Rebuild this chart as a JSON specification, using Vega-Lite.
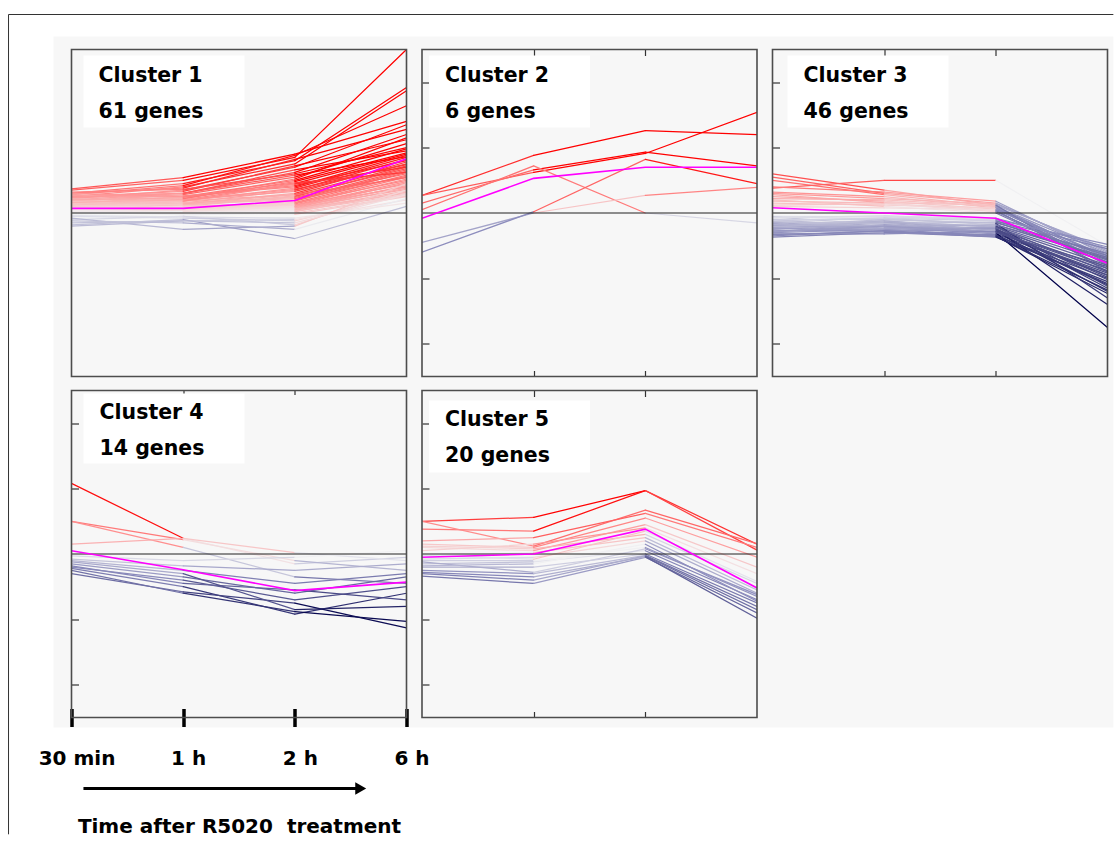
{
"$schema": "https://vega.github.io/schema/vega-lite/v6.json",
"padding": {"left": 7.5, "top": 13.5, "right": 0, "bottom": 0},
"background": "white",
"bounds": "flush",
"columns": 3,
"spacing": {"row": 14, "column": 15.5},
"datasets": {
"genes": [
{"c":1,"g":1,"t":0,"v":0.35},{"c":1,"g":1,"t":1,"v":0.50},{"c":1,"g":1,"t":2,"v":0.85},{"c":1,"g":1,"t":3,"v":2.50},
{"c":1,"g":2,"t":0,"v":0.30},{"c":1,"g":2,"t":1,"v":0.45},{"c":1,"g":2,"t":2,"v":0.80},{"c":1,"g":2,"t":3,"v":1.92},
{"c":1,"g":3,"t":0,"v":0.25},{"c":1,"g":3,"t":1,"v":0.40},{"c":1,"g":3,"t":2,"v":0.75},{"c":1,"g":3,"t":3,"v":1.87},
{"c":1,"g":4,"t":0,"v":0.28},{"c":1,"g":4,"t":1,"v":0.42},{"c":1,"g":4,"t":2,"v":0.88},{"c":1,"g":4,"t":3,"v":1.64},
{"c":1,"g":5,"t":0,"v":0.37},{"c":1,"g":5,"t":1,"v":0.54},{"c":1,"g":5,"t":2,"v":0.90},{"c":1,"g":5,"t":3,"v":1.40},
{"c":1,"g":6,"t":0,"v":0.22},{"c":1,"g":6,"t":1,"v":0.35},{"c":1,"g":6,"t":2,"v":0.70},{"c":1,"g":6,"t":3,"v":1.35},
{"c":1,"g":7,"t":0,"v":0.30},{"c":1,"g":7,"t":1,"v":0.38},{"c":1,"g":7,"t":2,"v":0.82},{"c":1,"g":7,"t":3,"v":1.28},
{"c":1,"g":8,"t":0,"v":0.20},{"c":1,"g":8,"t":1,"v":0.30},{"c":1,"g":8,"t":2,"v":0.62},{"c":1,"g":8,"t":3,"v":1.20},
{"c":1,"g":9,"t":0,"v":0.25},{"c":1,"g":9,"t":1,"v":0.33},{"c":1,"g":9,"t":2,"v":0.72},{"c":1,"g":9,"t":3,"v":1.12},
{"c":1,"g":10,"t":0,"v":0.18},{"c":1,"g":10,"t":1,"v":0.28},{"c":1,"g":10,"t":2,"v":0.55},{"c":1,"g":10,"t":3,"v":1.06},
{"c":1,"g":11,"t":0,"v":0.32},{"c":1,"g":11,"t":1,"v":0.36},{"c":1,"g":11,"t":2,"v":0.60},{"c":1,"g":11,"t":3,"v":1.00},
{"c":1,"g":12,"t":0,"v":0.15},{"c":1,"g":12,"t":1,"v":0.25},{"c":1,"g":12,"t":2,"v":0.50},{"c":1,"g":12,"t":3,"v":0.98},
{"c":1,"g":13,"t":0,"v":0.26},{"c":1,"g":13,"t":1,"v":0.30},{"c":1,"g":13,"t":2,"v":0.66},{"c":1,"g":13,"t":3,"v":0.95},
{"c":1,"g":14,"t":0,"v":0.20},{"c":1,"g":14,"t":1,"v":0.22},{"c":1,"g":14,"t":2,"v":0.48},{"c":1,"g":14,"t":3,"v":0.92},
{"c":1,"g":15,"t":0,"v":0.12},{"c":1,"g":15,"t":1,"v":0.20},{"c":1,"g":15,"t":2,"v":0.45},{"c":1,"g":15,"t":3,"v":0.90},
{"c":1,"g":16,"t":0,"v":0.24},{"c":1,"g":16,"t":1,"v":0.26},{"c":1,"g":16,"t":2,"v":0.40},{"c":1,"g":16,"t":3,"v":0.88},
{"c":1,"g":17,"t":0,"v":0.10},{"c":1,"g":17,"t":1,"v":0.18},{"c":1,"g":17,"t":2,"v":0.38},{"c":1,"g":17,"t":3,"v":0.85},
{"c":1,"g":18,"t":0,"v":0.18},{"c":1,"g":18,"t":1,"v":0.15},{"c":1,"g":18,"t":2,"v":0.35},{"c":1,"g":18,"t":3,"v":0.82},
{"c":1,"g":19,"t":0,"v":0.30},{"c":1,"g":19,"t":1,"v":0.25},{"c":1,"g":19,"t":2,"v":0.42},{"c":1,"g":19,"t":3,"v":0.80},
{"c":1,"g":20,"t":0,"v":0.08},{"c":1,"g":20,"t":1,"v":0.14},{"c":1,"g":20,"t":2,"v":0.30},{"c":1,"g":20,"t":3,"v":0.78},
{"c":1,"g":21,"t":0,"v":0.14},{"c":1,"g":21,"t":1,"v":0.20},{"c":1,"g":21,"t":2,"v":0.33},{"c":1,"g":21,"t":3,"v":0.75},
{"c":1,"g":22,"t":0,"v":0.22},{"c":1,"g":22,"t":1,"v":0.18},{"c":1,"g":22,"t":2,"v":0.28},{"c":1,"g":22,"t":3,"v":0.72},
{"c":1,"g":23,"t":0,"v":0.06},{"c":1,"g":23,"t":1,"v":0.10},{"c":1,"g":23,"t":2,"v":0.25},{"c":1,"g":23,"t":3,"v":0.70},
{"c":1,"g":24,"t":0,"v":0.16},{"c":1,"g":24,"t":1,"v":0.12},{"c":1,"g":24,"t":2,"v":0.26},{"c":1,"g":24,"t":3,"v":0.68},
{"c":1,"g":25,"t":0,"v":0.12},{"c":1,"g":25,"t":1,"v":0.16},{"c":1,"g":25,"t":2,"v":0.22},{"c":1,"g":25,"t":3,"v":0.66},
{"c":1,"g":26,"t":0,"v":0.20},{"c":1,"g":26,"t":1,"v":0.14},{"c":1,"g":26,"t":2,"v":0.20},{"c":1,"g":26,"t":3,"v":0.64},
{"c":1,"g":27,"t":0,"v":0.05},{"c":1,"g":27,"t":1,"v":0.08},{"c":1,"g":27,"t":2,"v":0.18},{"c":1,"g":27,"t":3,"v":0.62},
{"c":1,"g":28,"t":0,"v":0.10},{"c":1,"g":28,"t":1,"v":0.12},{"c":1,"g":28,"t":2,"v":0.24},{"c":1,"g":28,"t":3,"v":0.60},
{"c":1,"g":29,"t":0,"v":0.18},{"c":1,"g":29,"t":1,"v":0.10},{"c":1,"g":29,"t":2,"v":0.16},{"c":1,"g":29,"t":3,"v":0.58},
{"c":1,"g":30,"t":0,"v":0.08},{"c":1,"g":30,"t":1,"v":0.06},{"c":1,"g":30,"t":2,"v":0.20},{"c":1,"g":30,"t":3,"v":0.56},
{"c":1,"g":31,"t":0,"v":0.14},{"c":1,"g":31,"t":1,"v":0.08},{"c":1,"g":31,"t":2,"v":0.14},{"c":1,"g":31,"t":3,"v":0.55},
{"c":1,"g":32,"t":0,"v":0.04},{"c":1,"g":32,"t":1,"v":0.10},{"c":1,"g":32,"t":2,"v":0.12},{"c":1,"g":32,"t":3,"v":0.52},
{"c":1,"g":33,"t":0,"v":0.10},{"c":1,"g":33,"t":1,"v":0.04},{"c":1,"g":33,"t":2,"v":0.15},{"c":1,"g":33,"t":3,"v":0.50},
{"c":1,"g":34,"t":0,"v":0.06},{"c":1,"g":34,"t":1,"v":0.08},{"c":1,"g":34,"t":2,"v":0.10},{"c":1,"g":34,"t":3,"v":0.48},
{"c":1,"g":35,"t":0,"v":0.12},{"c":1,"g":35,"t":1,"v":0.06},{"c":1,"g":35,"t":2,"v":0.08},{"c":1,"g":35,"t":3,"v":0.46},
{"c":1,"g":36,"t":0,"v":0.02},{"c":1,"g":36,"t":1,"v":0.05},{"c":1,"g":36,"t":2,"v":0.12},{"c":1,"g":36,"t":3,"v":0.44},
{"c":1,"g":37,"t":0,"v":0.08},{"c":1,"g":37,"t":1,"v":0.02},{"c":1,"g":37,"t":2,"v":0.06},{"c":1,"g":37,"t":3,"v":0.42},
{"c":1,"g":38,"t":0,"v":0.05},{"c":1,"g":38,"t":1,"v":0.04},{"c":1,"g":38,"t":2,"v":0.10},{"c":1,"g":38,"t":3,"v":0.40},
{"c":1,"g":39,"t":0,"v":0.03},{"c":1,"g":39,"t":1,"v":0.00},{"c":1,"g":39,"t":2,"v":0.05},{"c":1,"g":39,"t":3,"v":0.38},
{"c":1,"g":40,"t":0,"v":0.09},{"c":1,"g":40,"t":1,"v":0.03},{"c":1,"g":40,"t":2,"v":0.08},{"c":1,"g":40,"t":3,"v":0.36},
{"c":1,"g":41,"t":0,"v":0.01},{"c":1,"g":41,"t":1,"v":0.02},{"c":1,"g":41,"t":2,"v":0.04},{"c":1,"g":41,"t":3,"v":0.34},
{"c":1,"g":42,"t":0,"v":0.04},{"c":1,"g":42,"t":1,"v":-0.02},{"c":1,"g":42,"t":2,"v":0.02},{"c":1,"g":42,"t":3,"v":0.32},
{"c":1,"g":43,"t":0,"v":0.00},{"c":1,"g":43,"t":1,"v":0.01},{"c":1,"g":43,"t":2,"v":0.06},{"c":1,"g":43,"t":3,"v":0.30},
{"c":1,"g":44,"t":0,"v":0.06},{"c":1,"g":44,"t":1,"v":0.00},{"c":1,"g":44,"t":2,"v":0.03},{"c":1,"g":44,"t":3,"v":0.28},
{"c":1,"g":45,"t":0,"v":0.02},{"c":1,"g":45,"t":1,"v":-0.03},{"c":1,"g":45,"t":2,"v":0.00},{"c":1,"g":45,"t":3,"v":0.26},
{"c":1,"g":46,"t":0,"v":0.03},{"c":1,"g":46,"t":1,"v":0.02},{"c":1,"g":46,"t":2,"v":-0.02},{"c":1,"g":46,"t":3,"v":0.25},
{"c":1,"g":47,"t":0,"v":0.28},{"c":1,"g":47,"t":1,"v":0.20},{"c":1,"g":47,"t":2,"v":0.36},{"c":1,"g":47,"t":3,"v":0.74},
{"c":1,"g":48,"t":0,"v":0.16},{"c":1,"g":48,"t":1,"v":0.22},{"c":1,"g":48,"t":2,"v":0.52},{"c":1,"g":48,"t":3,"v":1.15},
{"c":1,"g":49,"t":0,"v":0.24},{"c":1,"g":49,"t":1,"v":0.30},{"c":1,"g":49,"t":2,"v":0.58},{"c":1,"g":49,"t":3,"v":0.86},
{"c":1,"g":50,"t":0,"v":0.12},{"c":1,"g":50,"t":1,"v":0.18},{"c":1,"g":50,"t":2,"v":0.44},{"c":1,"g":50,"t":3,"v":0.70},
{"c":1,"g":51,"t":0,"v":0.20},{"c":1,"g":51,"t":1,"v":0.24},{"c":1,"g":51,"t":2,"v":0.46},{"c":1,"g":51,"t":3,"v":0.62},
{"c":1,"g":52,"t":0,"v":0.10},{"c":1,"g":52,"t":1,"v":0.14},{"c":1,"g":52,"t":2,"v":0.28},{"c":1,"g":52,"t":3,"v":0.54},
{"c":1,"g":53,"t":0,"v":-0.02},{"c":1,"g":53,"t":1,"v":0.02},{"c":1,"g":53,"t":2,"v":0.10},{"c":1,"g":53,"t":3,"v":0.40},
{"c":1,"g":54,"t":0,"v":-0.05},{"c":1,"g":54,"t":1,"v":-0.08},{"c":1,"g":54,"t":2,"v":-0.12},{"c":1,"g":54,"t":3,"v":0.30},
{"c":1,"g":55,"t":0,"v":-0.10},{"c":1,"g":55,"t":1,"v":-0.05},{"c":1,"g":55,"t":2,"v":-0.18},{"c":1,"g":55,"t":3,"v":0.35},
{"c":1,"g":56,"t":0,"v":-0.15},{"c":1,"g":56,"t":1,"v":-0.12},{"c":1,"g":56,"t":2,"v":-0.10},{"c":1,"g":56,"t":3,"v":0.20},
{"c":1,"g":57,"t":0,"v":-0.08},{"c":1,"g":57,"t":1,"v":-0.25},{"c":1,"g":57,"t":2,"v":-0.20},{"c":1,"g":57,"t":3,"v":0.45},
{"c":1,"g":58,"t":0,"v":-0.18},{"c":1,"g":58,"t":1,"v":-0.10},{"c":1,"g":58,"t":2,"v":-0.39},{"c":1,"g":58,"t":3,"v":0.10},
{"c":1,"g":59,"t":0,"v":-0.12},{"c":1,"g":59,"t":1,"v":-0.15},{"c":1,"g":59,"t":2,"v":-0.25},{"c":1,"g":59,"t":3,"v":0.22},
{"c":1,"g":60,"t":0,"v":-0.04},{"c":1,"g":60,"t":1,"v":-0.06},{"c":1,"g":60,"t":2,"v":-0.08},{"c":1,"g":60,"t":3,"v":0.15},
{"c":1,"g":61,"t":0,"v":-0.20},{"c":1,"g":61,"t":1,"v":-0.12},{"c":1,"g":61,"t":2,"v":-0.15},{"c":1,"g":61,"t":3,"v":0.28},
{"c":2,"g":1,"t":0,"v":0.27},{"c":2,"g":1,"t":1,"v":0.88},{"c":2,"g":1,"t":2,"v":1.26},{"c":2,"g":1,"t":3,"v":1.20},
{"c":2,"g":2,"t":0,"v":0.27},{"c":2,"g":2,"t":1,"v":0.62},{"c":2,"g":2,"t":2,"v":0.91},{"c":2,"g":2,"t":3,"v":1.54},
{"c":2,"g":3,"t":0,"v":0.15},{"c":2,"g":3,"t":1,"v":0.66},{"c":2,"g":3,"t":2,"v":0.93},{"c":2,"g":3,"t":3,"v":0.72},
{"c":2,"g":4,"t":0,"v":0.05},{"c":2,"g":4,"t":1,"v":0.72},{"c":2,"g":4,"t":2,"v":0.00},{"c":2,"g":4,"t":3,"v":-0.15},
{"c":2,"g":5,"t":0,"v":-0.45},{"c":2,"g":5,"t":1,"v":0.00},{"c":2,"g":5,"t":2,"v":0.27},{"c":2,"g":5,"t":3,"v":0.39},
{"c":2,"g":6,"t":0,"v":-0.60},{"c":2,"g":6,"t":1,"v":0.02},{"c":2,"g":6,"t":2,"v":0.82},{"c":2,"g":6,"t":3,"v":0.45},
{"c":3,"g":1,"t":0,"v":0.60},{"c":3,"g":1,"t":1,"v":0.35},{"c":3,"g":1,"t":2,"v":0.12},{"c":3,"g":1,"t":3,"v":-0.55},
{"c":3,"g":2,"t":0,"v":0.55},{"c":3,"g":2,"t":1,"v":0.30},{"c":3,"g":2,"t":2,"v":0.15},{"c":3,"g":2,"t":3,"v":-0.60},
{"c":3,"g":3,"t":0,"v":0.50},{"c":3,"g":3,"t":1,"v":0.28},{"c":3,"g":3,"t":2,"v":0.10},{"c":3,"g":3,"t":3,"v":-0.70},
{"c":3,"g":4,"t":0,"v":0.38},{"c":3,"g":4,"t":1,"v":0.50},{"c":3,"g":4,"t":2,"v":0.50},{"c":3,"g":4,"t":3,"v":-0.50},
{"c":3,"g":5,"t":0,"v":0.40},{"c":3,"g":5,"t":1,"v":0.32},{"c":3,"g":5,"t":2,"v":0.18},{"c":3,"g":5,"t":3,"v":-0.65},
{"c":3,"g":6,"t":0,"v":0.32},{"c":3,"g":6,"t":1,"v":0.25},{"c":3,"g":6,"t":2,"v":0.08},{"c":3,"g":6,"t":3,"v":-0.80},
{"c":3,"g":7,"t":0,"v":0.30},{"c":3,"g":7,"t":1,"v":0.22},{"c":3,"g":7,"t":2,"v":0.14},{"c":3,"g":7,"t":3,"v":-0.58},
{"c":3,"g":8,"t":0,"v":0.25},{"c":3,"g":8,"t":1,"v":0.18},{"c":3,"g":8,"t":2,"v":0.06},{"c":3,"g":8,"t":3,"v":-0.72},
{"c":3,"g":9,"t":0,"v":0.22},{"c":3,"g":9,"t":1,"v":0.20},{"c":3,"g":9,"t":2,"v":0.10},{"c":3,"g":9,"t":3,"v":-0.62},
{"c":3,"g":10,"t":0,"v":0.18},{"c":3,"g":10,"t":1,"v":0.15},{"c":3,"g":10,"t":2,"v":0.04},{"c":3,"g":10,"t":3,"v":-0.85},
{"c":3,"g":11,"t":0,"v":0.15},{"c":3,"g":11,"t":1,"v":0.12},{"c":3,"g":11,"t":2,"v":0.08},{"c":3,"g":11,"t":3,"v":-0.68},
{"c":3,"g":12,"t":0,"v":0.12},{"c":3,"g":12,"t":1,"v":0.14},{"c":3,"g":12,"t":2,"v":0.02},{"c":3,"g":12,"t":3,"v":-0.75},
{"c":3,"g":13,"t":0,"v":0.28},{"c":3,"g":13,"t":1,"v":0.16},{"c":3,"g":13,"t":2,"v":0.12},{"c":3,"g":13,"t":3,"v":-0.90},
{"c":3,"g":14,"t":0,"v":0.10},{"c":3,"g":14,"t":1,"v":0.08},{"c":3,"g":14,"t":2,"v":0.05},{"c":3,"g":14,"t":3,"v":-0.66},
{"c":3,"g":15,"t":0,"v":0.20},{"c":3,"g":15,"t":1,"v":0.10},{"c":3,"g":15,"t":2,"v":0.00},{"c":3,"g":15,"t":3,"v":-0.78},
{"c":3,"g":16,"t":0,"v":-0.05},{"c":3,"g":16,"t":1,"v":-0.06},{"c":3,"g":16,"t":2,"v":-0.10},{"c":3,"g":16,"t":3,"v":-0.48},
{"c":3,"g":17,"t":0,"v":-0.08},{"c":3,"g":17,"t":1,"v":-0.04},{"c":3,"g":17,"t":2,"v":-0.12},{"c":3,"g":17,"t":3,"v":-0.55},
{"c":3,"g":18,"t":0,"v":-0.10},{"c":3,"g":18,"t":1,"v":-0.10},{"c":3,"g":18,"t":2,"v":-0.15},{"c":3,"g":18,"t":3,"v":-0.62},
{"c":3,"g":19,"t":0,"v":-0.12},{"c":3,"g":19,"t":1,"v":-0.08},{"c":3,"g":19,"t":2,"v":-0.18},{"c":3,"g":19,"t":3,"v":-0.70},
{"c":3,"g":20,"t":0,"v":-0.15},{"c":3,"g":20,"t":1,"v":-0.14},{"c":3,"g":20,"t":2,"v":-0.20},{"c":3,"g":20,"t":3,"v":-0.75},
{"c":3,"g":21,"t":0,"v":-0.18},{"c":3,"g":21,"t":1,"v":-0.12},{"c":3,"g":21,"t":2,"v":-0.22},{"c":3,"g":21,"t":3,"v":-0.80},
{"c":3,"g":22,"t":0,"v":-0.20},{"c":3,"g":22,"t":1,"v":-0.18},{"c":3,"g":22,"t":2,"v":-0.25},{"c":3,"g":22,"t":3,"v":-0.85},
{"c":3,"g":23,"t":0,"v":-0.22},{"c":3,"g":23,"t":1,"v":-0.20},{"c":3,"g":23,"t":2,"v":-0.28},{"c":3,"g":23,"t":3,"v":-0.88},
{"c":3,"g":24,"t":0,"v":-0.25},{"c":3,"g":24,"t":1,"v":-0.15},{"c":3,"g":24,"t":2,"v":-0.30},{"c":3,"g":24,"t":3,"v":-0.92},
{"c":3,"g":25,"t":0,"v":-0.28},{"c":3,"g":25,"t":1,"v":-0.22},{"c":3,"g":25,"t":2,"v":-0.32},{"c":3,"g":25,"t":3,"v":-0.95},
{"c":3,"g":26,"t":0,"v":-0.30},{"c":3,"g":26,"t":1,"v":-0.25},{"c":3,"g":26,"t":2,"v":-0.35},{"c":3,"g":26,"t":3,"v":-1.00},
{"c":3,"g":27,"t":0,"v":-0.33},{"c":3,"g":27,"t":1,"v":-0.28},{"c":3,"g":27,"t":2,"v":-0.37},{"c":3,"g":27,"t":3,"v":-1.05},
{"c":3,"g":28,"t":0,"v":-0.37},{"c":3,"g":28,"t":1,"v":-0.30},{"c":3,"g":28,"t":2,"v":-0.33},{"c":3,"g":28,"t":3,"v":-1.10},
{"c":3,"g":29,"t":0,"v":-0.06},{"c":3,"g":29,"t":1,"v":-0.18},{"c":3,"g":29,"t":2,"v":-0.20},{"c":3,"g":29,"t":3,"v":-1.12},
{"c":3,"g":30,"t":0,"v":-0.10},{"c":3,"g":30,"t":1,"v":-0.22},{"c":3,"g":30,"t":2,"v":-0.24},{"c":3,"g":30,"t":3,"v":-1.15},
{"c":3,"g":31,"t":0,"v":-0.14},{"c":3,"g":31,"t":1,"v":-0.26},{"c":3,"g":31,"t":2,"v":-0.28},{"c":3,"g":31,"t":3,"v":-1.20},
{"c":3,"g":32,"t":0,"v":-0.16},{"c":3,"g":32,"t":1,"v":-0.30},{"c":3,"g":32,"t":2,"v":-0.36},{"c":3,"g":32,"t":3,"v":-1.23},
{"c":3,"g":33,"t":0,"v":-0.20},{"c":3,"g":33,"t":1,"v":-0.10},{"c":3,"g":33,"t":2,"v":-0.16},{"c":3,"g":33,"t":3,"v":-1.30},
{"c":3,"g":34,"t":0,"v":-0.24},{"c":3,"g":34,"t":1,"v":-0.12},{"c":3,"g":34,"t":2,"v":-0.26},{"c":3,"g":34,"t":3,"v":-1.40},
{"c":3,"g":35,"t":0,"v":-0.28},{"c":3,"g":35,"t":1,"v":-0.18},{"c":3,"g":35,"t":2,"v":-0.30},{"c":3,"g":35,"t":3,"v":-1.75},
{"c":3,"g":36,"t":0,"v":-0.07},{"c":3,"g":36,"t":1,"v":-0.05},{"c":3,"g":36,"t":2,"v":-0.08},{"c":3,"g":36,"t":3,"v":-0.52},
{"c":3,"g":37,"t":0,"v":-0.11},{"c":3,"g":37,"t":1,"v":-0.08},{"c":3,"g":37,"t":2,"v":-0.12},{"c":3,"g":37,"t":3,"v":-0.65},
{"c":3,"g":38,"t":0,"v":-0.13},{"c":3,"g":38,"t":1,"v":-0.16},{"c":3,"g":38,"t":2,"v":-0.14},{"c":3,"g":38,"t":3,"v":-0.72},
{"c":3,"g":39,"t":0,"v":-0.17},{"c":3,"g":39,"t":1,"v":-0.20},{"c":3,"g":39,"t":2,"v":-0.18},{"c":3,"g":39,"t":3,"v":-0.68},
{"c":3,"g":40,"t":0,"v":-0.19},{"c":3,"g":40,"t":1,"v":-0.24},{"c":3,"g":40,"t":2,"v":-0.22},{"c":3,"g":40,"t":3,"v":-0.90},
{"c":3,"g":41,"t":0,"v":-0.21},{"c":3,"g":41,"t":1,"v":-0.14},{"c":3,"g":41,"t":2,"v":-0.26},{"c":3,"g":41,"t":3,"v":-0.98},
{"c":3,"g":42,"t":0,"v":-0.23},{"c":3,"g":42,"t":1,"v":-0.26},{"c":3,"g":42,"t":2,"v":-0.24},{"c":3,"g":42,"t":3,"v":-1.02},
{"c":3,"g":43,"t":0,"v":-0.26},{"c":3,"g":43,"t":1,"v":-0.28},{"c":3,"g":43,"t":2,"v":-0.34},{"c":3,"g":43,"t":3,"v":-1.08},
{"c":3,"g":44,"t":0,"v":-0.29},{"c":3,"g":44,"t":1,"v":-0.20},{"c":3,"g":44,"t":2,"v":-0.30},{"c":3,"g":44,"t":3,"v":-0.82},
{"c":3,"g":45,"t":0,"v":-0.32},{"c":3,"g":45,"t":1,"v":-0.32},{"c":3,"g":45,"t":2,"v":-0.28},{"c":3,"g":45,"t":3,"v":-0.95},
{"c":3,"g":46,"t":0,"v":-0.35},{"c":3,"g":46,"t":1,"v":-0.27},{"c":3,"g":46,"t":2,"v":-0.36},{"c":3,"g":46,"t":3,"v":-1.18},
{"c":4,"g":1,"t":0,"v":1.08},{"c":4,"g":1,"t":1,"v":0.24},{"c":4,"g":1,"t":2,"v":-0.15},{"c":4,"g":1,"t":3,"v":-0.05},
{"c":4,"g":2,"t":0,"v":0.50},{"c":4,"g":2,"t":1,"v":0.22},{"c":4,"g":2,"t":2,"v":-0.10},{"c":4,"g":2,"t":3,"v":-0.25},
{"c":4,"g":3,"t":0,"v":0.50},{"c":4,"g":3,"t":1,"v":0.10},{"c":4,"g":3,"t":2,"v":-0.35},{"c":4,"g":3,"t":3,"v":-0.45},
{"c":4,"g":4,"t":0,"v":0.15},{"c":4,"g":4,"t":1,"v":0.24},{"c":4,"g":4,"t":2,"v":0.02},{"c":4,"g":4,"t":3,"v":-0.10},
{"c":4,"g":5,"t":0,"v":-0.03},{"c":4,"g":5,"t":1,"v":-0.10},{"c":4,"g":5,"t":2,"v":-0.05},{"c":4,"g":5,"t":3,"v":0.05},
{"c":4,"g":6,"t":0,"v":-0.08},{"c":4,"g":6,"t":1,"v":-0.18},{"c":4,"g":6,"t":2,"v":-0.25},{"c":4,"g":6,"t":3,"v":-0.15},
{"c":4,"g":7,"t":0,"v":-0.10},{"c":4,"g":7,"t":1,"v":-0.25},{"c":4,"g":7,"t":2,"v":-0.45},{"c":4,"g":7,"t":3,"v":-0.30},
{"c":4,"g":8,"t":0,"v":-0.15},{"c":4,"g":8,"t":1,"v":-0.35},{"c":4,"g":8,"t":2,"v":-0.60},{"c":4,"g":8,"t":3,"v":-0.35},
{"c":4,"g":9,"t":0,"v":-0.20},{"c":4,"g":9,"t":1,"v":-0.40},{"c":4,"g":9,"t":2,"v":-0.70},{"c":4,"g":9,"t":3,"v":-0.50},
{"c":4,"g":10,"t":0,"v":-0.22},{"c":4,"g":10,"t":1,"v":-0.50},{"c":4,"g":10,"t":2,"v":-0.92},{"c":4,"g":10,"t":3,"v":-0.60},
{"c":4,"g":11,"t":0,"v":-0.25},{"c":4,"g":11,"t":1,"v":-0.60},{"c":4,"g":11,"t":2,"v":-0.88},{"c":4,"g":11,"t":3,"v":-1.03},
{"c":4,"g":12,"t":0,"v":-0.30},{"c":4,"g":12,"t":1,"v":-0.58},{"c":4,"g":12,"t":2,"v":-0.75},{"c":4,"g":12,"t":3,"v":-1.13},
{"c":4,"g":13,"t":0,"v":-0.18},{"c":4,"g":13,"t":1,"v":-0.45},{"c":4,"g":13,"t":2,"v":-0.55},{"c":4,"g":13,"t":3,"v":-0.70},
{"c":4,"g":14,"t":0,"v":-0.12},{"c":4,"g":14,"t":1,"v":-0.30},{"c":4,"g":14,"t":2,"v":-0.85},{"c":4,"g":14,"t":3,"v":-0.80},
{"c":5,"g":1,"t":0,"v":0.50},{"c":5,"g":1,"t":1,"v":0.56},{"c":5,"g":1,"t":2,"v":0.97},{"c":5,"g":1,"t":3,"v":0.15},
{"c":5,"g":2,"t":0,"v":0.38},{"c":5,"g":2,"t":1,"v":0.35},{"c":5,"g":2,"t":2,"v":0.97},{"c":5,"g":2,"t":3,"v":0.06},
{"c":5,"g":3,"t":0,"v":0.50},{"c":5,"g":3,"t":1,"v":0.12},{"c":5,"g":3,"t":2,"v":0.67},{"c":5,"g":3,"t":3,"v":0.16},
{"c":5,"g":4,"t":0,"v":0.20},{"c":5,"g":4,"t":1,"v":0.25},{"c":5,"g":4,"t":2,"v":0.62},{"c":5,"g":4,"t":3,"v":0.10},
{"c":5,"g":5,"t":0,"v":0.15},{"c":5,"g":5,"t":1,"v":0.10},{"c":5,"g":5,"t":2,"v":0.55},{"c":5,"g":5,"t":3,"v":-0.05},
{"c":5,"g":6,"t":0,"v":0.10},{"c":5,"g":6,"t":1,"v":0.05},{"c":5,"g":6,"t":2,"v":0.45},{"c":5,"g":6,"t":3,"v":-0.20},
{"c":5,"g":7,"t":0,"v":0.05},{"c":5,"g":7,"t":1,"v":0.15},{"c":5,"g":7,"t":2,"v":0.40},{"c":5,"g":7,"t":3,"v":-0.30},
{"c":5,"g":8,"t":0,"v":0.12},{"c":5,"g":8,"t":1,"v":0.08},{"c":5,"g":8,"t":2,"v":0.30},{"c":5,"g":8,"t":3,"v":-0.45},
{"c":5,"g":9,"t":0,"v":-0.05},{"c":5,"g":9,"t":1,"v":0.02},{"c":5,"g":9,"t":2,"v":0.25},{"c":5,"g":9,"t":3,"v":-0.55},
{"c":5,"g":10,"t":0,"v":-0.08},{"c":5,"g":10,"t":1,"v":-0.05},{"c":5,"g":10,"t":2,"v":0.20},{"c":5,"g":10,"t":3,"v":-0.60},
{"c":5,"g":11,"t":0,"v":-0.10},{"c":5,"g":11,"t":1,"v":-0.10},{"c":5,"g":11,"t":2,"v":0.10},{"c":5,"g":11,"t":3,"v":-0.65},
{"c":5,"g":12,"t":0,"v":-0.15},{"c":5,"g":12,"t":1,"v":-0.12},{"c":5,"g":12,"t":2,"v":0.05},{"c":5,"g":12,"t":3,"v":-0.70},
{"c":5,"g":13,"t":0,"v":-0.20},{"c":5,"g":13,"t":1,"v":-0.20},{"c":5,"g":13,"t":2,"v":0.00},{"c":5,"g":13,"t":3,"v":-0.75},
{"c":5,"g":14,"t":0,"v":-0.25},{"c":5,"g":14,"t":1,"v":-0.30},{"c":5,"g":14,"t":2,"v":-0.02},{"c":5,"g":14,"t":3,"v":-0.80},
{"c":5,"g":15,"t":0,"v":-0.30},{"c":5,"g":15,"t":1,"v":-0.40},{"c":5,"g":15,"t":2,"v":-0.03},{"c":5,"g":15,"t":3,"v":-0.85},
{"c":5,"g":16,"t":0,"v":-0.34},{"c":5,"g":16,"t":1,"v":-0.45},{"c":5,"g":16,"t":2,"v":-0.05},{"c":5,"g":16,"t":3,"v":-0.90},
{"c":5,"g":17,"t":0,"v":-0.28},{"c":5,"g":17,"t":1,"v":-0.35},{"c":5,"g":17,"t":2,"v":-0.04},{"c":5,"g":17,"t":3,"v":-0.98},
{"c":5,"g":18,"t":0,"v":-0.12},{"c":5,"g":18,"t":1,"v":-0.28},{"c":5,"g":18,"t":2,"v":0.08},{"c":5,"g":18,"t":3,"v":-0.62},
{"c":5,"g":19,"t":0,"v":-0.18},{"c":5,"g":19,"t":1,"v":-0.15},{"c":5,"g":19,"t":2,"v":0.15},{"c":5,"g":19,"t":3,"v":-0.72},
{"c":5,"g":20,"t":0,"v":-0.02},{"c":5,"g":20,"t":1,"v":-0.08},{"c":5,"g":20,"t":2,"v":0.35},{"c":5,"g":20,"t":3,"v":-0.42}
],
"means": [
{"c":1,"t":0,"v":0.07},{"c":1,"t":1,"v":0.07},{"c":1,"t":2,"v":0.19},{"c":1,"t":3,"v":0.83},
{"c":2,"t":0,"v":-0.08},{"c":2,"t":1,"v":0.53},{"c":2,"t":2,"v":0.70},{"c":2,"t":3,"v":0.70},
{"c":3,"t":0,"v":0.08},{"c":3,"t":1,"v":0.00},{"c":3,"t":2,"v":-0.08},{"c":3,"t":3,"v":-0.77},
{"c":4,"t":0,"v":0.05},{"c":4,"t":1,"v":-0.24},{"c":4,"t":2,"v":-0.56},{"c":4,"t":3,"v":-0.43},
{"c":5,"t":0,"v":-0.05},{"c":5,"t":1,"v":0.00},{"c":5,"t":2,"v":0.38},{"c":5,"t":3,"v":-0.52}
],
"labels": [
{"c":1,"name":"Cluster 1","n":"61 genes"},
{"c":2,"name":"Cluster 2","n":"6 genes"},
{"c":3,"name":"Cluster 3","n":"46 genes"},
{"c":4,"name":"Cluster 4","n":"14 genes"},
{"c":5,"name":"Cluster 5","n":"20 genes"}
]
},
"concat": [
{
"width": 335, "height": 327,
"resolve": {"axis": {"x": "independent"}},
"layer": [
{"data": {"values": [{}]}, "mark": {"type": "rect", "color": "#f7f7f7"},
 "encoding": {"x": {"datum": -0.161, "type": "quantitative", "scale": {"domain": [0, 3]}, "axis": null}, "x2": {"datum": 9.33},
  "y": {"datum": 2.699, "type": "quantitative", "scale": {"domain": [-2.5, 2.5]}}, "y2": {"datum": -7.867}}},
{"data": {"values": [{}]}, "mark": {"type": "rule", "color": "#333333", "strokeWidth": 1},
 "encoding": {"x": {"datum": -0.564, "type": "quantitative", "scale": {"domain": [0, 3]}, "axis": null}, "x2": {"datum": 9.33},
  "y": {"datum": 3.035, "type": "quantitative", "scale": {"domain": [-2.5, 2.5]}}}},
{"data": {"values": [{}]}, "mark": {"type": "rule", "color": "#333333", "strokeWidth": 1},
 "encoding": {"x": {"datum": -0.564, "type": "quantitative", "scale": {"domain": [0, 3]}, "axis": null},
  "y": {"datum": 3.035, "type": "quantitative", "scale": {"domain": [-2.5, 2.5]}}, "y2": {"datum": -9.5}}},
{"data": {"name": "genes"},
 "transform": [{"filter": "datum.c == 1"},
  {"window": [{"op": "lead", "field": "t", "as": "t2"}, {"op": "lead", "field": "v", "as": "v2"}, {"op": "mean", "field": "v", "as": "vm"}], "frame": [0, 1], "groupby": ["c", "g"], "sort": [{"field": "t", "order": "ascending"}]},
  {"filter": "isValid(datum.t2)"}],
 "mark": {"type": "rule", "clip": true, "strokeWidth": 1.25, "strokeCap": "round"},
 "encoding": {
  "x": {"field": "t", "type": "quantitative", "scale": {"domain": [0, 3]}, "axis": {"orient": "bottom", "values": [1, 2], "tickSize": -6, "labels": false, "domain": false, "title": null}},
  "x2": {"field": "t2"},
  "y": {"field": "v", "type": "quantitative", "scale": {"domain": [-2.5, 2.5]}, "axis": {"orient": "left", "values": [-2, -1, 1, 2], "tickSize": -7, "labels": false, "domain": false, "title": null}},
  "y2": {"field": "v2"},
  "color": {"field": "vm", "type": "quantitative", "scale": {"type": "linear", "domain": [-1.0, -0.3, 0, 0.3, 0.7], "range": ["#00004a", "#8a8abb", "#f0f0f2", "#ff8f8f", "#ff0000"], "clamp": true, "interpolate": "rgb"}, "legend": null}}},
{"data": {"values": [{}]}, "mark": {"type": "rule", "color": "#222222", "strokeWidth": 1.2},
 "encoding": {"y": {"datum": 0, "type": "quantitative", "scale": {"domain": [-2.5, 2.5]}}}},
{"data": {"name": "means"}, "transform": [{"filter": "datum.c == 1"}],
 "mark": {"type": "line", "color": "#ff00ff", "strokeWidth": 1.6, "clip": true},
 "encoding": {"x": {"field": "t", "type": "quantitative", "scale": {"domain": [0, 3]}, "axis": {"orient": "top", "values": [1, 2], "tickSize": -6, "labels": false, "domain": false, "title": null}},
  "y": {"field": "v", "type": "quantitative", "scale": {"domain": [-2.5, 2.5]}}}},
{"data": {"values": [{}]}, "mark": {"type": "rect", "filled": false, "stroke": "#4d4d4d", "strokeWidth": 1.6},
 "encoding": {"x": {"datum": 0, "type": "quantitative", "scale": {"domain": [0, 3]}, "axis": null}, "x2": {"datum": 3},
  "y": {"datum": -2.5, "type": "quantitative", "scale": {"domain": [-2.5, 2.5]}}, "y2": {"datum": 2.5}}},
{"data": {"values": [{}]}, "mark": {"type": "rect", "color": "white"},
 "encoding": {"x": {"datum": 0.107, "type": "quantitative", "scale": {"domain": [0, 3]}, "axis": null}, "x2": {"datum": 1.549},
  "y": {"datum": 2.408, "type": "quantitative", "scale": {"domain": [-2.5, 2.5]}}, "y2": {"datum": 1.307}}},
{"data": {"name": "labels"}, "transform": [{"filter": "datum.c == 1"}],
 "mark": {"type": "text", "align": "left", "baseline": "alphabetic", "font": "DejaVu Sans", "fontWeight": "bold", "fontSize": 20.5, "color": "black"},
 "encoding": {"x": {"datum": 0.242, "type": "quantitative", "scale": {"domain": [0, 3]}, "axis": null},
  "y": {"datum": 2.0, "type": "quantitative", "scale": {"domain": [-2.5, 2.5]}}, "text": {"field": "name"}}},
{"data": {"name": "labels"}, "transform": [{"filter": "datum.c == 1"}],
 "mark": {"type": "text", "align": "left", "baseline": "alphabetic", "font": "DejaVu Sans", "fontWeight": "bold", "fontSize": 20.5, "color": "black"},
 "encoding": {"x": {"datum": 0.242, "type": "quantitative", "scale": {"domain": [0, 3]}, "axis": null},
  "y": {"datum": 1.456, "type": "quantitative", "scale": {"domain": [-2.5, 2.5]}}, "text": {"field": "n"}}}
]
},
{
"width": 335, "height": 327,
"resolve": {"axis": {"x": "independent"}},
"layer": [
{"data": {"name": "genes"},
 "transform": [{"filter": "datum.c == 2"},
  {"window": [{"op": "lead", "field": "t", "as": "t2"}, {"op": "lead", "field": "v", "as": "v2"}, {"op": "mean", "field": "v", "as": "vm"}], "frame": [0, 1], "groupby": ["c", "g"], "sort": [{"field": "t", "order": "ascending"}]},
  {"filter": "isValid(datum.t2)"}],
 "mark": {"type": "rule", "clip": true, "strokeWidth": 1.25, "strokeCap": "round"},
 "encoding": {
  "x": {"field": "t", "type": "quantitative", "scale": {"domain": [0, 3]}, "axis": {"orient": "bottom", "values": [1, 2], "tickSize": -6, "labels": false, "domain": false, "title": null}},
  "x2": {"field": "t2"},
  "y": {"field": "v", "type": "quantitative", "scale": {"domain": [-2.5, 2.5]}, "axis": {"orient": "left", "values": [-2, -1, 1, 2], "tickSize": -7, "labels": false, "domain": false, "title": null}},
  "y2": {"field": "v2"},
  "color": {"field": "vm", "type": "quantitative", "scale": {"type": "linear", "domain": [-1.0, -0.3, 0, 0.3, 0.7], "range": ["#00004a", "#8a8abb", "#f0f0f2", "#ff8f8f", "#ff0000"], "clamp": true, "interpolate": "rgb"}, "legend": null}}},
{"data": {"values": [{}]}, "mark": {"type": "rule", "color": "#222222", "strokeWidth": 1.2},
 "encoding": {"y": {"datum": 0, "type": "quantitative", "scale": {"domain": [-2.5, 2.5]}}}},
{"data": {"name": "means"}, "transform": [{"filter": "datum.c == 2"}],
 "mark": {"type": "line", "color": "#ff00ff", "strokeWidth": 1.6, "clip": true},
 "encoding": {"x": {"field": "t", "type": "quantitative", "scale": {"domain": [0, 3]}, "axis": {"orient": "top", "values": [1, 2], "tickSize": -6, "labels": false, "domain": false, "title": null}},
  "y": {"field": "v", "type": "quantitative", "scale": {"domain": [-2.5, 2.5]}}}},
{"data": {"values": [{}]}, "mark": {"type": "rect", "filled": false, "stroke": "#4d4d4d", "strokeWidth": 1.6},
 "encoding": {"x": {"datum": 0, "type": "quantitative", "scale": {"domain": [0, 3]}, "axis": null}, "x2": {"datum": 3},
  "y": {"datum": -2.5, "type": "quantitative", "scale": {"domain": [-2.5, 2.5]}}, "y2": {"datum": 2.5}}},
{"data": {"values": [{}]}, "mark": {"type": "rect", "color": "white"},
 "encoding": {"x": {"datum": 0.063, "type": "quantitative", "scale": {"domain": [0, 3]}, "axis": null}, "x2": {"datum": 1.504},
  "y": {"datum": 2.408, "type": "quantitative", "scale": {"domain": [-2.5, 2.5]}}, "y2": {"datum": 1.307}}},
{"data": {"name": "labels"}, "transform": [{"filter": "datum.c == 2"}],
 "mark": {"type": "text", "align": "left", "baseline": "alphabetic", "font": "DejaVu Sans", "fontWeight": "bold", "fontSize": 20.5, "color": "black"},
 "encoding": {"x": {"datum": 0.206, "type": "quantitative", "scale": {"domain": [0, 3]}, "axis": null},
  "y": {"datum": 2.0, "type": "quantitative", "scale": {"domain": [-2.5, 2.5]}}, "text": {"field": "name"}}},
{"data": {"name": "labels"}, "transform": [{"filter": "datum.c == 2"}],
 "mark": {"type": "text", "align": "left", "baseline": "alphabetic", "font": "DejaVu Sans", "fontWeight": "bold", "fontSize": 20.5, "color": "black"},
 "encoding": {"x": {"datum": 0.206, "type": "quantitative", "scale": {"domain": [0, 3]}, "axis": null},
  "y": {"datum": 1.456, "type": "quantitative", "scale": {"domain": [-2.5, 2.5]}}, "text": {"field": "n"}}}
]
},
{
"width": 335, "height": 327,
"resolve": {"axis": {"x": "independent"}},
"layer": [
{"data": {"name": "genes"},
 "transform": [{"filter": "datum.c == 3"},
  {"window": [{"op": "lead", "field": "t", "as": "t2"}, {"op": "lead", "field": "v", "as": "v2"}, {"op": "mean", "field": "v", "as": "vm"}], "frame": [0, 1], "groupby": ["c", "g"], "sort": [{"field": "t", "order": "ascending"}]},
  {"filter": "isValid(datum.t2)"}],
 "mark": {"type": "rule", "clip": true, "strokeWidth": 1.25, "strokeCap": "round"},
 "encoding": {
  "x": {"field": "t", "type": "quantitative", "scale": {"domain": [0, 3]}, "axis": {"orient": "bottom", "values": [1, 2], "tickSize": -6, "labels": false, "domain": false, "title": null}},
  "x2": {"field": "t2"},
  "y": {"field": "v", "type": "quantitative", "scale": {"domain": [-2.5, 2.5]}, "axis": {"orient": "left", "values": [-2, -1, 1, 2], "tickSize": -7, "labels": false, "domain": false, "title": null}},
  "y2": {"field": "v2"},
  "color": {"field": "vm", "type": "quantitative", "scale": {"type": "linear", "domain": [-1.0, -0.3, 0, 0.3, 0.7], "range": ["#00004a", "#8a8abb", "#f0f0f2", "#ff8f8f", "#ff0000"], "clamp": true, "interpolate": "rgb"}, "legend": null}}},
{"data": {"values": [{}]}, "mark": {"type": "rule", "color": "#222222", "strokeWidth": 1.2},
 "encoding": {"y": {"datum": 0, "type": "quantitative", "scale": {"domain": [-2.5, 2.5]}}}},
{"data": {"name": "means"}, "transform": [{"filter": "datum.c == 3"}],
 "mark": {"type": "line", "color": "#ff00ff", "strokeWidth": 1.6, "clip": true},
 "encoding": {"x": {"field": "t", "type": "quantitative", "scale": {"domain": [0, 3]}, "axis": {"orient": "top", "values": [1, 2], "tickSize": -6, "labels": false, "domain": false, "title": null}},
  "y": {"field": "v", "type": "quantitative", "scale": {"domain": [-2.5, 2.5]}}}},
{"data": {"values": [{}]}, "mark": {"type": "rect", "filled": false, "stroke": "#4d4d4d", "strokeWidth": 1.6},
 "encoding": {"x": {"datum": 0, "type": "quantitative", "scale": {"domain": [0, 3]}, "axis": null}, "x2": {"datum": 3},
  "y": {"datum": -2.5, "type": "quantitative", "scale": {"domain": [-2.5, 2.5]}}, "y2": {"datum": 2.5}}},
{"data": {"values": [{}]}, "mark": {"type": "rect", "color": "white"},
 "encoding": {"x": {"datum": 0.134, "type": "quantitative", "scale": {"domain": [0, 3]}, "axis": null}, "x2": {"datum": 1.576},
  "y": {"datum": 2.408, "type": "quantitative", "scale": {"domain": [-2.5, 2.5]}}, "y2": {"datum": 1.307}}},
{"data": {"name": "labels"}, "transform": [{"filter": "datum.c == 3"}],
 "mark": {"type": "text", "align": "left", "baseline": "alphabetic", "font": "DejaVu Sans", "fontWeight": "bold", "fontSize": 20.5, "color": "black"},
 "encoding": {"x": {"datum": 0.278, "type": "quantitative", "scale": {"domain": [0, 3]}, "axis": null},
  "y": {"datum": 2.0, "type": "quantitative", "scale": {"domain": [-2.5, 2.5]}}, "text": {"field": "name"}}},
{"data": {"name": "labels"}, "transform": [{"filter": "datum.c == 3"}],
 "mark": {"type": "text", "align": "left", "baseline": "alphabetic", "font": "DejaVu Sans", "fontWeight": "bold", "fontSize": 20.5, "color": "black"},
 "encoding": {"x": {"datum": 0.278, "type": "quantitative", "scale": {"domain": [0, 3]}, "axis": null},
  "y": {"datum": 1.456, "type": "quantitative", "scale": {"domain": [-2.5, 2.5]}}, "text": {"field": "n"}}}
]
},
{
"width": 335, "height": 327,
"resolve": {"axis": {"x": "independent"}},
"layer": [
{"data": {"name": "genes"},
 "transform": [{"filter": "datum.c == 4"},
  {"window": [{"op": "lead", "field": "t", "as": "t2"}, {"op": "lead", "field": "v", "as": "v2"}, {"op": "mean", "field": "v", "as": "vm"}], "frame": [0, 1], "groupby": ["c", "g"], "sort": [{"field": "t", "order": "ascending"}]},
  {"filter": "isValid(datum.t2)"}],
 "mark": {"type": "rule", "clip": true, "strokeWidth": 1.25, "strokeCap": "round"},
 "encoding": {
  "x": {"field": "t", "type": "quantitative", "scale": {"domain": [0, 3]},
   "axis": {"orient": "bottom", "values": [0, 1, 2, 3], "offset": -9, "tickSize": 18, "tickWidth": 3.5, "tickColor": "black", "domain": false,
    "labels": true, "labelExpr": "['30 min', '1 h', '2 h', '6 h'][datum.value]", "labelFlush": false, "labelOverlap": false, "labelOffset": 5, "labelPadding": 22,
    "labelFont": "DejaVu Sans", "labelFontWeight": "bold", "labelFontSize": 20, "labelColor": "black",
    "title": "Time after R5020\u00a0 treatment", "titleFont": "DejaVu Sans", "titleFontWeight": "bold", "titleFontSize": 20, "titleColor": "black", "titlePadding": 48}},
  "x2": {"field": "t2"},
  "y": {"field": "v", "type": "quantitative", "scale": {"domain": [-2.5, 2.5]}, "axis": {"orient": "left", "values": [-2, -1, 1, 2], "tickSize": -7, "labels": false, "domain": false, "title": null}},
  "y2": {"field": "v2"},
  "color": {"field": "vm", "type": "quantitative", "scale": {"type": "linear", "domain": [-1.0, -0.3, 0, 0.3, 0.7], "range": ["#00004a", "#8a8abb", "#f0f0f2", "#ff8f8f", "#ff0000"], "clamp": true, "interpolate": "rgb"}, "legend": null}}},
{"data": {"values": [{}]}, "mark": {"type": "rule", "color": "#222222", "strokeWidth": 1.2},
 "encoding": {"y": {"datum": 0, "type": "quantitative", "scale": {"domain": [-2.5, 2.5]}}}},
{"data": {"name": "means"}, "transform": [{"filter": "datum.c == 4"}],
 "mark": {"type": "line", "color": "#ff00ff", "strokeWidth": 1.6, "clip": true},
 "encoding": {"x": {"field": "t", "type": "quantitative", "scale": {"domain": [0, 3]}, "axis": {"orient": "top", "values": [1, 2], "tickSize": -4, "labels": false, "domain": false, "title": null}},
  "y": {"field": "v", "type": "quantitative", "scale": {"domain": [-2.5, 2.5]}}}},
{"data": {"values": [{}]}, "mark": {"type": "rect", "filled": false, "stroke": "#4d4d4d", "strokeWidth": 1.6},
 "encoding": {"x": {"datum": 0, "type": "quantitative", "scale": {"domain": [0, 3]}, "axis": null}, "x2": {"datum": 3},
  "y": {"datum": -2.5, "type": "quantitative", "scale": {"domain": [-2.5, 2.5]}}, "y2": {"datum": 2.5}}},
{"data": {"values": [{}]}, "mark": {"type": "rect", "color": "white"},
 "encoding": {"x": {"datum": 0.107, "type": "quantitative", "scale": {"domain": [0, 3]}, "axis": null}, "x2": {"datum": 1.549},
  "y": {"datum": 2.454, "type": "quantitative", "scale": {"domain": [-2.5, 2.5]}}, "y2": {"datum": 1.384}}},
{"data": {"name": "labels"}, "transform": [{"filter": "datum.c == 4"}],
 "mark": {"type": "text", "align": "left", "baseline": "alphabetic", "font": "DejaVu Sans", "fontWeight": "bold", "fontSize": 20.5, "color": "black"},
 "encoding": {"x": {"datum": 0.251, "type": "quantitative", "scale": {"domain": [0, 3]}, "axis": null},
  "y": {"datum": 2.057, "type": "quantitative", "scale": {"domain": [-2.5, 2.5]}}, "text": {"field": "name"}}},
{"data": {"name": "labels"}, "transform": [{"filter": "datum.c == 4"}],
 "mark": {"type": "text", "align": "left", "baseline": "alphabetic", "font": "DejaVu Sans", "fontWeight": "bold", "fontSize": 20.5, "color": "black"},
 "encoding": {"x": {"datum": 0.251, "type": "quantitative", "scale": {"domain": [0, 3]}, "axis": null},
  "y": {"datum": 1.521, "type": "quantitative", "scale": {"domain": [-2.5, 2.5]}}, "text": {"field": "n"}}},
{"data": {"values": [{}]}, "mark": {"type": "rule", "color": "black", "strokeWidth": 3},
 "encoding": {"x": {"datum": 0.107, "type": "quantitative", "scale": {"domain": [0, 3]}, "axis": null}, "x2": {"datum": 2.56},
  "y": {"datum": -3.585, "type": "quantitative", "scale": {"domain": [-2.5, 2.5]}}}},
{"data": {"values": [{}]}, "mark": {"type": "point", "shape": "triangle-right", "filled": true, "size": 160, "color": "black", "opacity": 1},
 "encoding": {"x": {"datum": 2.59, "type": "quantitative", "scale": {"domain": [0, 3]}, "axis": null},
  "y": {"datum": -3.585, "type": "quantitative", "scale": {"domain": [-2.5, 2.5]}}}}
]
},
{
"width": 335, "height": 327,
"resolve": {"axis": {"x": "independent"}},
"layer": [
{"data": {"name": "genes"},
 "transform": [{"filter": "datum.c == 5"},
  {"window": [{"op": "lead", "field": "t", "as": "t2"}, {"op": "lead", "field": "v", "as": "v2"}, {"op": "mean", "field": "v", "as": "vm"}], "frame": [0, 1], "groupby": ["c", "g"], "sort": [{"field": "t", "order": "ascending"}]},
  {"filter": "isValid(datum.t2)"}],
 "mark": {"type": "rule", "clip": true, "strokeWidth": 1.25, "strokeCap": "round"},
 "encoding": {
  "x": {"field": "t", "type": "quantitative", "scale": {"domain": [0, 3]}, "axis": {"orient": "bottom", "values": [1, 2], "tickSize": -6, "labels": false, "domain": false, "title": null}},
  "x2": {"field": "t2"},
  "y": {"field": "v", "type": "quantitative", "scale": {"domain": [-2.5, 2.5]}, "axis": {"orient": "left", "values": [-2, -1, 1, 2], "tickSize": -7, "labels": false, "domain": false, "title": null}},
  "y2": {"field": "v2"},
  "color": {"field": "vm", "type": "quantitative", "scale": {"type": "linear", "domain": [-1.0, -0.3, 0, 0.3, 0.7], "range": ["#00004a", "#8a8abb", "#f0f0f2", "#ff8f8f", "#ff0000"], "clamp": true, "interpolate": "rgb"}, "legend": null}}},
{"data": {"values": [{}]}, "mark": {"type": "rule", "color": "#222222", "strokeWidth": 1.2},
 "encoding": {"y": {"datum": 0, "type": "quantitative", "scale": {"domain": [-2.5, 2.5]}}}},
{"data": {"name": "means"}, "transform": [{"filter": "datum.c == 5"}],
 "mark": {"type": "line", "color": "#ff00ff", "strokeWidth": 1.6, "clip": true},
 "encoding": {"x": {"field": "t", "type": "quantitative", "scale": {"domain": [0, 3]}, "axis": {"orient": "top", "values": [1, 2], "tickSize": -6, "labels": false, "domain": false, "title": null}},
  "y": {"field": "v", "type": "quantitative", "scale": {"domain": [-2.5, 2.5]}}}},
{"data": {"values": [{}]}, "mark": {"type": "rect", "filled": false, "stroke": "#4d4d4d", "strokeWidth": 1.6},
 "encoding": {"x": {"datum": 0, "type": "quantitative", "scale": {"domain": [0, 3]}, "axis": null}, "x2": {"datum": 3},
  "y": {"datum": -2.5, "type": "quantitative", "scale": {"domain": [-2.5, 2.5]}}, "y2": {"datum": 2.5}}},
{"data": {"values": [{}]}, "mark": {"type": "rect", "color": "white"},
 "encoding": {"x": {"datum": 0.063, "type": "quantitative", "scale": {"domain": [0, 3]}, "axis": null}, "x2": {"datum": 1.504},
  "y": {"datum": 2.347, "type": "quantitative", "scale": {"domain": [-2.5, 2.5]}}, "y2": {"datum": 1.246}}},
{"data": {"name": "labels"}, "transform": [{"filter": "datum.c == 5"}],
 "mark": {"type": "text", "align": "left", "baseline": "alphabetic", "font": "DejaVu Sans", "fontWeight": "bold", "fontSize": 20.5, "color": "black"},
 "encoding": {"x": {"datum": 0.206, "type": "quantitative", "scale": {"domain": [0, 3]}, "axis": null},
  "y": {"datum": 1.954, "type": "quantitative", "scale": {"domain": [-2.5, 2.5]}}, "text": {"field": "name"}}},
{"data": {"name": "labels"}, "transform": [{"filter": "datum.c == 5"}],
 "mark": {"type": "text", "align": "left", "baseline": "alphabetic", "font": "DejaVu Sans", "fontWeight": "bold", "fontSize": 20.5, "color": "black"},
 "encoding": {"x": {"datum": 0.206, "type": "quantitative", "scale": {"domain": [0, 3]}, "axis": null},
  "y": {"datum": 1.414, "type": "quantitative", "scale": {"domain": [-2.5, 2.5]}}, "text": {"field": "n"}}}
]
}
],
"config": {
 "view": {"stroke": null, "fill": "#f7f7f7"},
 "axis": {"zindex": 1, "grid": false, "domain": false, "labels": false, "tickColor": "#333333", "tickWidth": 1.2}
}
}
